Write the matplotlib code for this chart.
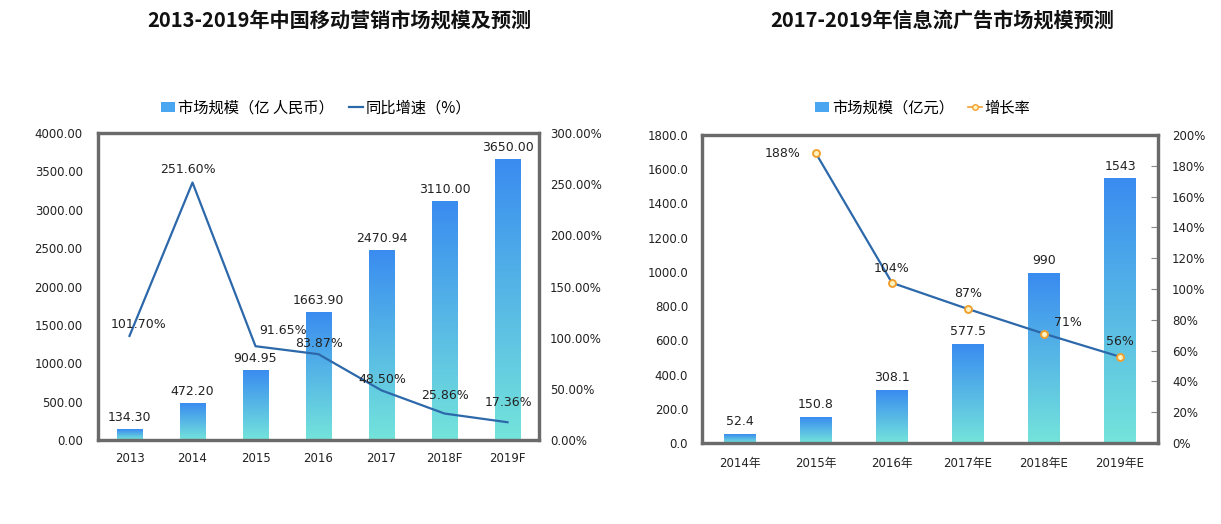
import numpy as np
import matplotlib
matplotlib.use("Agg")
import matplotlib.pyplot as plt
from matplotlib.colors import LinearSegmentedColormap
from matplotlib.patches import Patch
from matplotlib.lines import Line2D
from matplotlib.ticker import FuncFormatter, MultipleLocator

plt.rcParams['font.family'] = ['DejaVu Sans', 'Noto Sans CJK SC']
CJK = ['Noto Sans CJK SC', 'DejaVu Sans']

# ---------------- data ----------------
left_title = "2013-2019年中国移动营销市场规模及预测"
left_cats = ["2013", "2014", "2015", "2016", "2017", "2018F", "2019F"]
left_size = [134.30, 472.20, 904.95, 1663.90, 2470.94, 3110.00, 3650.00]
left_growth = [101.70, 251.60, 91.65, 83.87, 48.50, 25.86, 17.36]
left_bar_name = "市场规模（亿 人民币）"
left_line_name = "同比增速（%）"

right_title = "2017-2019年信息流广告市场规模预测"
right_cats = ["2014年", "2015年", "2016年", "2017年E", "2018年E", "2019年E"]
right_size = [52.4, 150.8, 308.1, 577.5, 990, 1543]
right_growth = [np.nan, 188, 104, 87, 71, 56]
right_bar_name = "市场规模（亿元）"
right_line_name = "增长率"

# label offsets (points) for line labels - styling only
left_line_off = [(6.5, 3.6), (-3.6, 4.5), (19.5, 6.5), (0.5, 3), (0.5, 3), (0, 8), (0.5, 9.5)]
right_line_off = [(0, 0), (-24, 0), (0, 6), (0, 6.5), (17, 3), (0, 6)]

# ---------------- style ----------------
W, H = 1221, 524
fig = plt.figure(figsize=(W / 100, H / 100), dpi=100)
grad = LinearSegmentedColormap.from_list("g", ["#74e4db", "#3a8cf0"])
line_col = "#2c68aa"
frame_col = "#6a6a6a"
tick_fs = 8.5


def fpos(x0, y0, x1, y1):
    return [x0 / W, 1 - y1 / H, (x1 - x0) / W, (y1 - y0) / H]


def gradient_bars(ax, vals, width):
    g = np.linspace(0, 1, 256).reshape(-1, 1)
    for i, v in enumerate(vals):
        ax.imshow(g, cmap=grad, origin="lower", aspect="auto",
                  extent=(i - width / 2, i + width / 2, 0, v), zorder=2,
                  interpolation="bicubic")


def style_frame(ax):
    for s in ax.spines.values():
        s.set_color(frame_col)
        s.set_linewidth(2.3)


# ---------------- left chart ----------------
axL = fig.add_axes(fpos(98, 133, 539, 440))
n = len(left_cats)
wL = 0.40
gradient_bars(axL, left_size, wL)
axL.set_xlim(-0.5, n - 0.5)
axL.set_ylim(0, 4000)
axL.yaxis.set_major_locator(MultipleLocator(500))
axL.yaxis.set_major_formatter(FuncFormatter(lambda v, p: f"{v:.2f}"))
axL.set_xticks(range(n))
axL.set_xticklabels(left_cats)
axL.tick_params(axis='both', length=0, labelsize=tick_fs, colors="#222222")
axL.tick_params(axis='y', pad=11)
axL.tick_params(axis='x', pad=8.5)
for i, v in enumerate(left_size):
    axL.annotate(f"{v:.2f}", (i, v), xytext=(0, 4), textcoords="offset points",
                 ha="center", va="bottom", fontsize=9, color="#222222", zorder=5)
style_frame(axL)

axL2 = axL.twinx()
axL2.plot(range(n), left_growth, color=line_col, lw=1.6, zorder=4)
axL2.set_ylim(0, 300)
axL2.yaxis.set_major_locator(MultipleLocator(50))
axL2.yaxis.set_major_formatter(FuncFormatter(lambda v, p: f"{v:.2f}%"))
axL2.tick_params(axis='y', length=0, labelsize=tick_fs, pad=8, colors="#222222")
for i, v in enumerate(left_growth):
    dx, dy = left_line_off[i]
    axL2.annotate(f"{v:.2f}%", (i, v), xytext=(dx, dy), textcoords="offset points",
                  ha="center", va="bottom", fontsize=9, color="#222222", zorder=6)
style_frame(axL2)

fig.text(339 / W, 1 - 20 / H, left_title, ha="center", va="center",
         fontsize=14.5, fontweight="bold", family=CJK, color="#111111")
hL = [Patch(facecolor="#4aa6f0", edgecolor="none"),
      Line2D([], [], color=line_col, lw=1.6)]
fig.legend(hL, [left_bar_name, left_line_name], loc="center",
           bbox_to_anchor=(316 / W, 1 - 108 / H), ncol=2, frameon=False,
           prop={'family': CJK, 'size': 11}, handlelength=0.9, handleheight=0.6,
           handletextpad=0.2, columnspacing=1.0)

# ---------------- right chart ----------------
axR = fig.add_axes(fpos(702, 135, 1158, 443))
m = len(right_cats)
wR = 0.41
gradient_bars(axR, right_size, wR)
axR.set_xlim(-0.5, m - 0.5)
axR.set_ylim(0, 1800)
axR.yaxis.set_major_locator(MultipleLocator(200))
axR.yaxis.set_major_formatter(FuncFormatter(lambda v, p: f"{v:.1f}"))
axR.set_xticks(range(m))
axR.set_xticklabels(right_cats)
axR.tick_params(axis='both', length=0, labelsize=tick_fs, colors="#222222")
axR.tick_params(axis='y', pad=10)
axR.tick_params(axis='x', pad=10)
for i, v in enumerate(right_size):
    axR.annotate(f"{v:g}", (i, v), xytext=(0, 4.5), textcoords="offset points",
                 ha="center", va="bottom", fontsize=9, color="#222222", zorder=5)
style_frame(axR)

axR2 = axR.twinx()
axR2.plot(range(m), right_growth, color=line_col, lw=1.6, zorder=4,
          marker="o", markersize=5, markerfacecolor="#fff3c0",
          markeredgecolor="#f0a030", markeredgewidth=1.4)
axR2.set_ylim(0, 200)
axR2.yaxis.set_major_locator(MultipleLocator(20))
axR2.yaxis.set_major_formatter(FuncFormatter(lambda v, p: f"{v:.0f}%"))
axR2.tick_params(axis='y', direction='in', length=5, width=0.8,
                 labelsize=tick_fs, pad=10, labelcolor="#222222", color="#888888")
for i, v in enumerate(right_growth):
    if np.isnan(v):
        continue
    dx, dy = right_line_off[i]
    if i == 1:
        axR2.annotate(f"{v:.0f}%", (i, v), xytext=(dx, dy), textcoords="offset points",
                      ha="center", va="center", fontsize=9, color="#222222", zorder=6)
    else:
        axR2.annotate(f"{v:.0f}%", (i, v), xytext=(dx, dy), textcoords="offset points",
                      ha="center", va="bottom", fontsize=9, color="#222222", zorder=6)
style_frame(axR2)

fig.text(942 / W, 1 - 20 / H, right_title, ha="center", va="center",
         fontsize=14.5, fontweight="bold", family=CJK, color="#111111")
hR = [Patch(facecolor="#4aa6f0", edgecolor="none"),
      Line2D([], [], color="#f0a030", lw=1.2, marker="o", markersize=4,
             markerfacecolor="#fff3c0", markeredgecolor="#f0a030")]
fig.legend(hR, [right_bar_name, right_line_name], loc="center",
           bbox_to_anchor=(923 / W, 1 - 108 / H), ncol=2, frameon=False,
           prop={'family': CJK, 'size': 11}, handlelength=0.9, handleheight=0.6,
           handletextpad=0.2, columnspacing=0.9)

fig.savefig("out.png", dpi=100)
